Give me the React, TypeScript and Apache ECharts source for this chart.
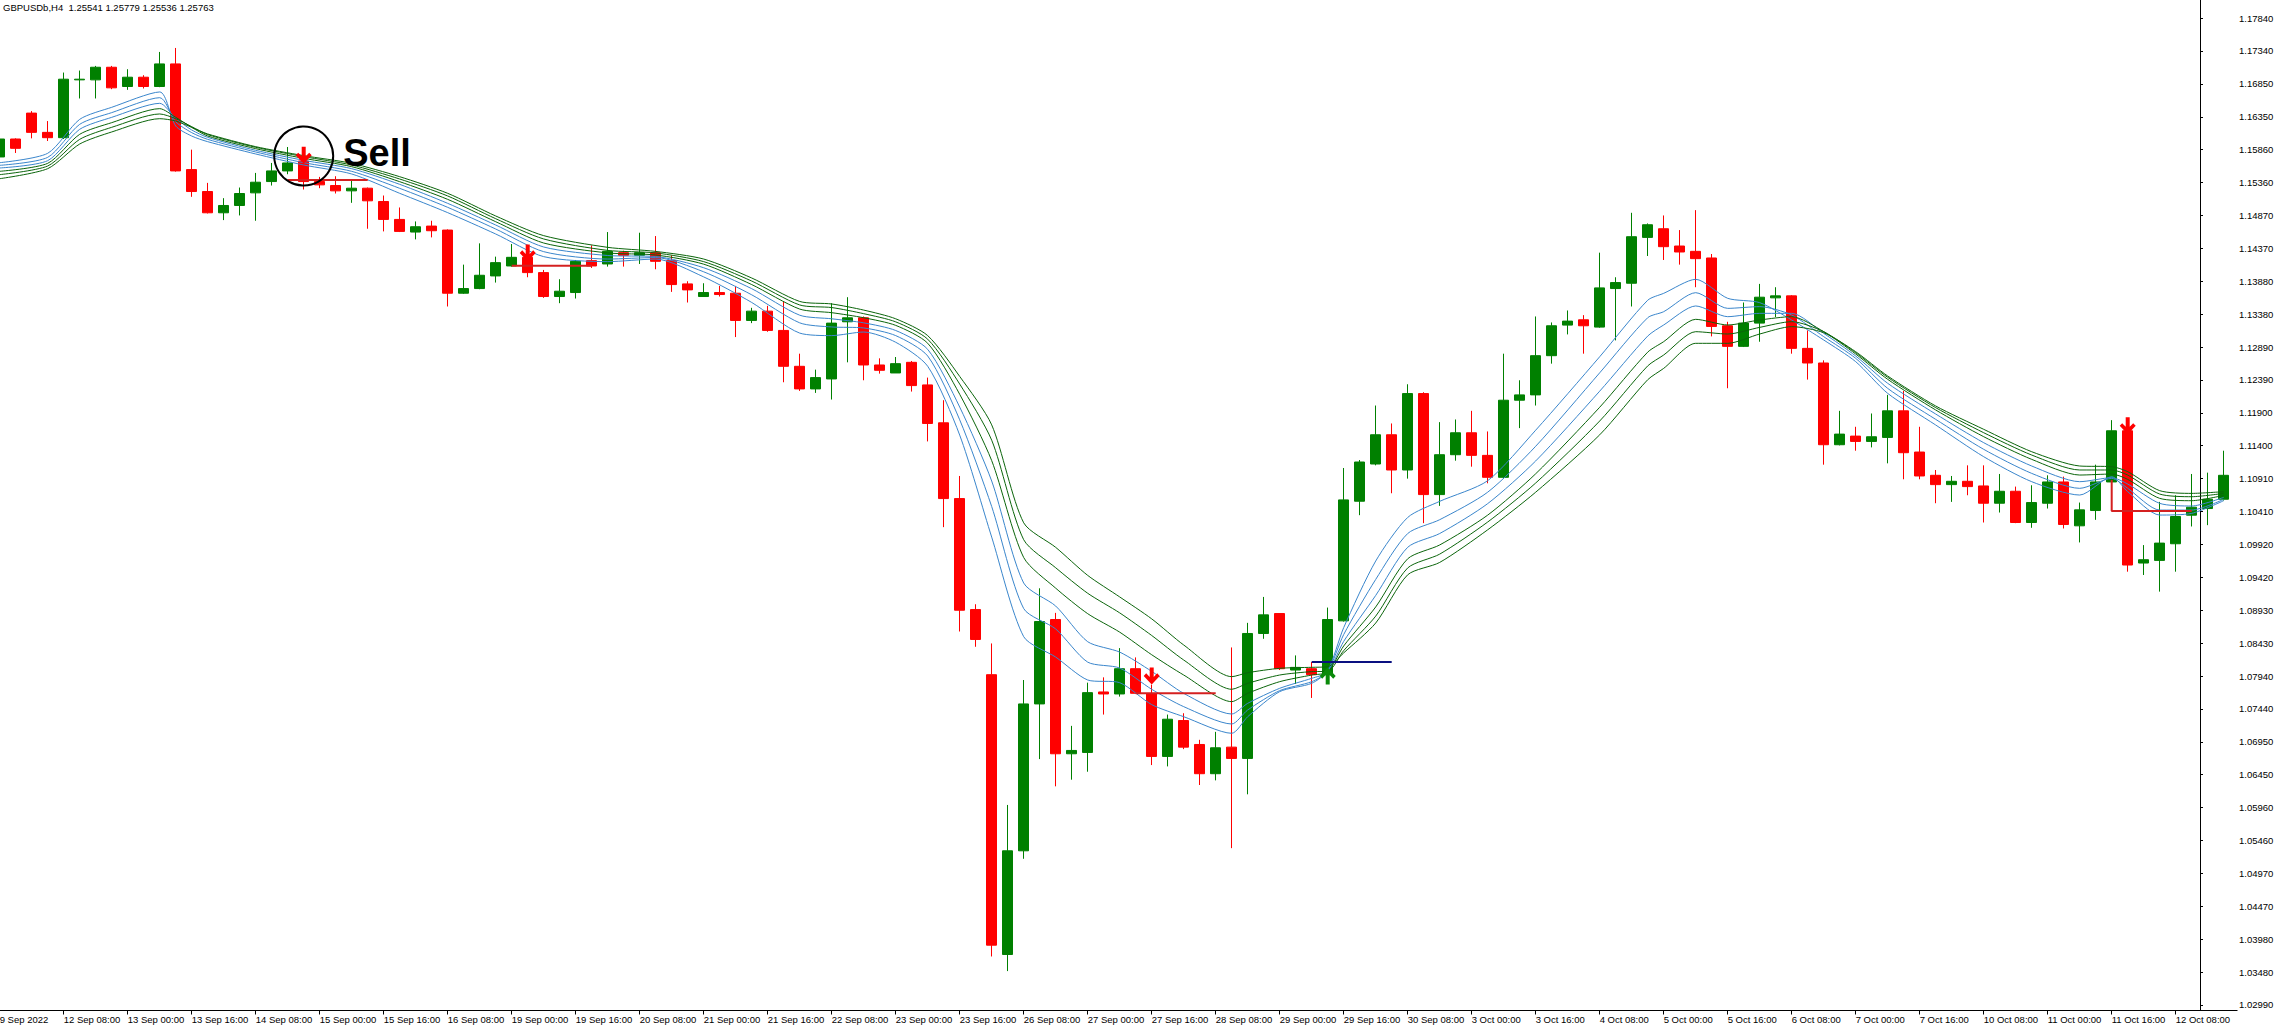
import React, { useEffect, useRef } from "react";
import * as echarts from "echarts";

const headerText = "GBPUSDb,H4  1.25541 1.25779 1.25536 1.25763";

const xTickLabels = [
  "9 Sep 2022", "12 Sep 08:00", "13 Sep 00:00", "13 Sep 16:00", "14 Sep 08:00", "15 Sep 00:00",
  "15 Sep 16:00", "16 Sep 08:00", "19 Sep 00:00", "19 Sep 16:00", "20 Sep 08:00", "21 Sep 00:00",
  "21 Sep 16:00", "22 Sep 08:00", "23 Sep 00:00", "23 Sep 16:00", "26 Sep 08:00", "27 Sep 00:00",
  "27 Sep 16:00", "28 Sep 08:00", "29 Sep 00:00", "29 Sep 16:00", "30 Sep 08:00", "3 Oct 00:00",
  "3 Oct 16:00", "4 Oct 08:00", "5 Oct 00:00", "5 Oct 16:00", "6 Oct 08:00", "7 Oct 00:00",
  "7 Oct 16:00", "10 Oct 08:00", "11 Oct 00:00", "11 Oct 16:00", "12 Oct 08:00",
];

const yTickValues = [
  1.0299, 1.03485, 1.0398, 1.04475, 1.0497, 1.05465, 1.0596, 1.06455, 1.0695, 1.07445, 1.0794,
  1.08435, 1.0893, 1.09425, 1.0992, 1.10415, 1.1091, 1.11405, 1.119, 1.12395, 1.1289, 1.13385,
  1.1388, 1.14375, 1.1487, 1.15365, 1.1586, 1.16355, 1.1685, 1.17345, 1.1784,
];
const yTickLabels = [
  "1.02990", "1.03480", "1.03980", "1.04470", "1.04970", "1.05460", "1.05960", "1.06450", "1.06950",
  "1.07440", "1.07940", "1.08430", "1.08930", "1.09420", "1.09920", "1.10410", "1.10910", "1.11400",
  "1.11900", "1.12390", "1.12890", "1.13380", "1.13880", "1.14370", "1.14870", "1.15360", "1.15860",
  "1.16350", "1.16850", "1.17340", "1.17840",
];
const yMin = 1.029072;
const yMax = 1.181117;

const opens = [
  1.1575, 1.1602, 1.1641, 1.1612, 1.1604, 1.1691, 1.1691, 1.1710, 1.1681, 1.1695,
  1.1681, 1.1715, 1.1556, 1.1523, 1.1491, 1.1502, 1.1521, 1.1538, 1.1554, 1.1569,
  1.1538, 1.1532, 1.1524, 1.1528, 1.1508, 1.1481, 1.1462, 1.1471, 1.1465, 1.1370,
  1.1377, 1.1396, 1.1411, 1.1424, 1.1401, 1.1365, 1.1371, 1.1419, 1.1414, 1.1431,
  1.1427, 1.1431, 1.1419, 1.1384, 1.1365, 1.1371, 1.1370, 1.1329, 1.1343, 1.1314,
  1.1260, 1.1226, 1.1241, 1.1327, 1.1333, 1.1262, 1.1250, 1.1266, 1.1232, 1.1175,
  1.1061, 1.0894, 1.0796, 1.0375, 1.0531, 1.0752, 1.0879, 1.0677, 1.0679, 1.0770,
  1.0767, 1.0805, 1.0767, 1.0673, 1.0727, 1.0691, 1.0647, 1.0687, 1.0670, 1.0858,
  1.0888, 1.0803, 1.0805, 1.0796, 1.0877, 1.1057, 1.1113, 1.1157, 1.1104, 1.1219,
  1.1067, 1.1127, 1.1160, 1.1126, 1.1093, 1.1209, 1.1217, 1.1276, 1.1322, 1.1330,
  1.1319, 1.1377, 1.1385, 1.1454, 1.1467, 1.1441, 1.1433, 1.1423, 1.1321, 1.1290,
  1.1325, 1.1363, 1.1366, 1.1287, 1.1265, 1.1142, 1.1155, 1.1147, 1.1153, 1.1193,
  1.1131, 1.1096, 1.1082, 1.1087, 1.1080, 1.1054, 1.1072, 1.1025, 1.1054, 1.1086,
  1.1020, 1.1043, 1.1086, 1.1163, 1.0964, 1.0968, 1.0993, 1.1036, 1.1046, 1.1060,
];
const highs = [
  1.1604, 1.1603, 1.1644, 1.1629, 1.1702, 1.1705, 1.1712, 1.1712, 1.1707, 1.1698,
  1.1733, 1.1739, 1.1586, 1.1536, 1.1513, 1.1529, 1.1551, 1.1566, 1.1590, 1.1571,
  1.1545, 1.1546, 1.1539, 1.1529, 1.1517, 1.1499, 1.1478, 1.1479, 1.1466, 1.1413,
  1.1445, 1.1425, 1.1444, 1.1435, 1.1405, 1.1391, 1.1420, 1.1442, 1.1462, 1.1434,
  1.1461, 1.1456, 1.1427, 1.1388, 1.1385, 1.1381, 1.1381, 1.1348, 1.1351, 1.1358,
  1.1279, 1.1255, 1.1355, 1.1364, 1.1335, 1.1272, 1.1274, 1.1268, 1.1243, 1.1209,
  1.1095, 1.0902, 1.0843, 1.0600, 1.0788, 1.0926, 1.0889, 1.0719, 1.0784, 1.0792,
  1.0836, 1.0822, 1.0781, 1.0736, 1.0738, 1.0698, 1.0710, 1.0837, 1.0874, 1.0913,
  1.0888, 1.0825, 1.0815, 1.0897, 1.1107, 1.1119, 1.1201, 1.1174, 1.1233, 1.1221,
  1.1176, 1.1180, 1.1193, 1.1162, 1.1279, 1.1239, 1.1335, 1.1326, 1.1344, 1.1337,
  1.1431, 1.1394, 1.1491, 1.1475, 1.1487, 1.1465, 1.1495, 1.1429, 1.1327, 1.1356,
  1.1384, 1.1379, 1.1367, 1.1314, 1.1269, 1.1193, 1.1169, 1.1189, 1.1217, 1.1223,
  1.1169, 1.1104, 1.1095, 1.1111, 1.1111, 1.1098, 1.1079, 1.1081, 1.1096, 1.1094,
  1.1055, 1.1112, 1.1179, 1.1179, 1.0991, 1.1056, 1.1066, 1.1098, 1.1100, 1.1133,
];
const lows = [
  1.1573, 1.1581, 1.1603, 1.1599, 1.1602, 1.1663, 1.1663, 1.1677, 1.1676, 1.1678,
  1.1680, 1.1553, 1.1515, 1.1490, 1.1480, 1.1487, 1.1479, 1.1532, 1.1549, 1.1526,
  1.1528, 1.1520, 1.1506, 1.1467, 1.1463, 1.1462, 1.1451, 1.1454, 1.1350, 1.1369,
  1.1376, 1.1386, 1.1410, 1.1394, 1.1363, 1.1355, 1.1362, 1.1408, 1.1410, 1.1410,
  1.1414, 1.1406, 1.1372, 1.1356, 1.1365, 1.1365, 1.1304, 1.1325, 1.1312, 1.1236,
  1.1223, 1.1220, 1.1210, 1.1266, 1.1239, 1.1249, 1.1250, 1.1222, 1.1147, 1.1018,
  1.0861, 1.0838, 1.0372, 1.0350, 1.0519, 1.0669, 1.0628, 1.0638, 1.0650, 1.0736,
  1.0763, 1.0767, 1.0660, 1.0658, 1.0684, 1.0630, 1.0637, 1.0535, 1.0616, 1.0850,
  1.0803, 1.0782, 1.0761, 1.0791, 1.0876, 1.1036, 1.1111, 1.1069, 1.1091, 1.1024,
  1.1050, 1.1118, 1.1109, 1.1084, 1.1091, 1.1167, 1.1201, 1.1264, 1.1308, 1.1279,
  1.1318, 1.1299, 1.1350, 1.1426, 1.1420, 1.1413, 1.1379, 1.1305, 1.1227, 1.1289,
  1.1297, 1.1334, 1.1279, 1.1240, 1.1112, 1.1141, 1.1133, 1.1138, 1.1114, 1.1090,
  1.1090, 1.1054, 1.1056, 1.1066, 1.1025, 1.1040, 1.1024, 1.1017, 1.1046, 1.1016,
  1.0995, 1.1029, 1.1085, 1.0951, 1.0946, 1.0921, 1.0951, 1.1019, 1.1021, 1.1058,
];
const closes = [
  1.1602, 1.1588, 1.1612, 1.1604, 1.1692, 1.1692, 1.1710, 1.1679, 1.1695, 1.1681,
  1.1715, 1.1554, 1.1523, 1.1491, 1.1502, 1.1520, 1.1537, 1.1554, 1.1566, 1.1538,
  1.1533, 1.1524, 1.1528, 1.1509, 1.1481, 1.1463, 1.1470, 1.1464, 1.1370, 1.1377,
  1.1397, 1.1416, 1.1424, 1.1401, 1.1365, 1.1373, 1.1418, 1.1411, 1.1433, 1.1427,
  1.1431, 1.1418, 1.1383, 1.1375, 1.1371, 1.1368, 1.1329, 1.1343, 1.1314, 1.1260,
  1.1226, 1.1243, 1.1325, 1.1333, 1.1262, 1.1254, 1.1264, 1.1231, 1.1174, 1.1061,
  1.0893, 1.0849, 1.0389, 1.0531, 1.0752, 1.0876, 1.0677, 1.0682, 1.0769, 1.0767,
  1.0805, 1.0768, 1.0673, 1.0729, 1.0687, 1.0647, 1.0686, 1.0670, 1.0858, 1.0886,
  1.0805, 1.0807, 1.0796, 1.0879, 1.1059, 1.1116, 1.1157, 1.1104, 1.1219, 1.1067,
  1.1127, 1.1160, 1.1126, 1.1093, 1.1209, 1.1217, 1.1276, 1.1321, 1.1328, 1.1321,
  1.1378, 1.1386, 1.1455, 1.1473, 1.1440, 1.1432, 1.1422, 1.1320, 1.1290, 1.1325,
  1.1364, 1.1366, 1.1287, 1.1265, 1.1142, 1.1158, 1.1147, 1.1154, 1.1193, 1.1130,
  1.1095, 1.1082, 1.1087, 1.1079, 1.1054, 1.1072, 1.1025, 1.1055, 1.1086, 1.1022,
  1.1044, 1.1086, 1.1163, 1.0961, 1.0969, 1.0994, 1.1034, 1.1048, 1.1060, 1.1096,
];

// moving-average ribbon, read at these bars
const maBars = [
  0, 3, 5, 7, 10, 11, 12, 13, 16, 19, 22, 25, 28, 31, 34, 38, 41, 44, 47, 50, 52, 54, 56, 58, 60,
  62, 64, 66, 68, 70, 72, 74, 77, 78, 80, 82, 83, 84, 86, 88, 90, 93, 96, 100, 103, 104, 106, 108,
  110, 112, 114, 116, 118, 121, 124, 127, 130, 132, 133, 135, 137, 139,
];
const maBlue1 = [
  1.15664, 1.15805, 1.16316, 1.16497, 1.16728, 1.16216, 1.16065, 1.1598, 1.15795, 1.15629, 1.15494,
  1.15203, 1.14912, 1.14591, 1.1425, 1.14175, 1.14214, 1.13945, 1.13561, 1.131, 1.13062, 1.13116,
  1.12962, 1.12601, 1.11565, 1.1003, 1.08532, 1.08225, 1.0788, 1.0784, 1.0751, 1.07328, 1.07078,
  1.07328, 1.07705, 1.0783, 1.0802, 1.08668, 1.0967, 1.10326, 1.10568, 1.10879, 1.11639, 1.12744,
  1.13594, 1.13698, 1.13909, 1.13623, 1.13558, 1.13297, 1.12996, 1.1267, 1.12193, 1.11717, 1.1124,
  1.10864, 1.10663, 1.10939, 1.10714, 1.10362, 1.10387, 1.10578,
];
const maBlue2 = [
  1.15624, 1.15744, 1.16241, 1.16417, 1.16642, 1.16281, 1.16116, 1.16015, 1.15825, 1.15664,
  1.15534, 1.15278, 1.14992, 1.14666, 1.14325, 1.14214, 1.14237, 1.14022, 1.13676, 1.13254,
  1.13192, 1.13177, 1.13062, 1.12755, 1.11795, 1.1049, 1.08955, 1.08648, 1.08149, 1.0806, 1.0774,
  1.07479, 1.07218, 1.07429, 1.0772, 1.07855, 1.0801, 1.08564, 1.09393, 1.10084, 1.10292, 1.10706,
  1.11397, 1.12502, 1.13331, 1.13422, 1.13708, 1.13472, 1.13498, 1.13372, 1.13046, 1.1272,
  1.12268, 1.11802, 1.11351, 1.10989, 1.10764, 1.10914, 1.10764, 1.10437, 1.10437, 1.10598,
];
const maBlue3 = [
  1.15584, 1.15694, 1.16166, 1.16346, 1.16557, 1.16331, 1.16156, 1.16045, 1.1585, 1.15699,
  1.15574, 1.15338, 1.15052, 1.14726, 1.14395, 1.14267, 1.14252, 1.14083, 1.13768, 1.13369,
  1.13315, 1.13254, 1.13139, 1.12855, 1.11987, 1.10874, 1.09339, 1.08993, 1.08456, 1.083, 1.0801,
  1.07679, 1.07368, 1.07529, 1.07755, 1.07905, 1.08, 1.08461, 1.09152, 1.09877, 1.10084, 1.10534,
  1.11176, 1.12226, 1.13055, 1.13222, 1.13508, 1.13347, 1.13397, 1.13397, 1.13096, 1.12755,
  1.12344, 1.11882, 1.11451, 1.111, 1.10864, 1.10924, 1.10829, 1.10538, 1.10498, 1.10628,
];
const maGreen1 = [
  1.15534, 1.15654, 1.16091, 1.16266, 1.16477, 1.16346, 1.16196, 1.16065, 1.15875, 1.15729,
  1.15604, 1.15378, 1.15112, 1.14776, 1.14455, 1.14306, 1.14275, 1.14137, 1.1383, 1.13461,
  1.13407, 1.13331, 1.13216, 1.12947, 1.12179, 1.11181, 1.09723, 1.09262, 1.08878, 1.086, 1.0826,
  1.07955, 1.07554, 1.0768, 1.07855, 1.07955, 1.08, 1.08392, 1.08979, 1.09704, 1.09912, 1.10361,
  1.10983, 1.11984, 1.12813, 1.12971, 1.13307, 1.13222, 1.13297, 1.13347, 1.13121, 1.12785,
  1.12404, 1.11943, 1.11541, 1.112, 1.10964, 1.10979, 1.10899, 1.10613, 1.10578, 1.10658,
];
const maGreen2 = [
  1.15484, 1.15614, 1.16015, 1.16196, 1.16397, 1.16326, 1.16206, 1.16086, 1.15895, 1.15755,
  1.15629, 1.15418, 1.15163, 1.14821, 1.14516, 1.14344, 1.14306, 1.14175, 1.13883, 1.13523,
  1.13484, 1.13392, 1.13269, 1.13008, 1.12333, 1.11488, 1.09991, 1.09569, 1.09185, 1.0889, 1.0855,
  1.08181, 1.0774, 1.0783, 1.07955, 1.08006, 1.0801, 1.08323, 1.08841, 1.09566, 1.09774, 1.10257,
  1.10844, 1.11777, 1.12606, 1.1277, 1.13121, 1.13086, 1.13186, 1.13272, 1.13121, 1.12805,
  1.12434, 1.11978, 1.11601, 1.11265, 1.1104, 1.1104, 1.10964, 1.10678, 1.10638, 1.10688,
];
const maGreen3 = [
  1.15423, 1.15574, 1.15945, 1.16126, 1.16326, 1.16291, 1.16196, 1.16096, 1.15905, 1.1577,
  1.15654, 1.15453, 1.15203, 1.14862, 1.14566, 1.1439, 1.14329, 1.14214, 1.13929, 1.13576,
  1.13538, 1.13446, 1.13315, 1.13062, 1.12448, 1.11719, 1.10245, 1.09876, 1.09454, 1.0913, 1.088,
  1.08407, 1.0793, 1.0799, 1.08056, 1.08071, 1.0808, 1.08288, 1.08737, 1.09463, 1.09649, 1.1014,
  1.10706, 1.11569, 1.12398, 1.12569, 1.12946, 1.12946, 1.13086, 1.13197, 1.13106, 1.1282,
  1.12454, 1.12003, 1.11652, 1.11315, 1.111, 1.1109, 1.11015, 1.10729, 1.10688, 1.10714,
];

// signal levels
const sellLevelStart = [18, 32, 71, 132];
const sellLevelEnd = [23, 37, 76, 137];
const sellLevelPrice = [1.15403, 1.14114, 1.0768, 1.10423];
const sellLevelHookFrom = [null, null, null, 1.1089];
const buyLevelStart = [82];
const buyLevelEnd = [87];
const buyLevelPrice = [1.08151];

const sellArrowBars = [19, 33, 72, 133];
const sellArrowPrices = [1.15775, 1.14305, 1.0794, 1.11705];
const buyArrowBars = [83];
const buyArrowPrices = [1.0794];

const circleBar = 19;
const circlePrice = 1.15765;
const circleText = "Sell";

const FONT = "'Liberation Sans', Arial, sans-serif";
const DOWN_ARROW = "path://M6,0 L10,0 L10,9 L13.5,5.5 L16,8 L8,16 L0,8 L2.5,5.5 L6,9 Z";
const UP_ARROW = "path://M6,16 L10,16 L10,7 L13.5,10.5 L16,8 L8,0 L0,8 L2.5,10.5 L6,7 Z";

export default function App() {
  const ref = useRef<HTMLDivElement>(null);

  useEffect(() => {
    document.body.style.margin = "0";
    const el = ref.current;
    if (!el) return;
    const chart = echarts.init(el, null, { renderer: "svg" });

    const categories = opens.map((_, i) => String(i));
    const candleData = opens.map((o, i) => [o, closes[i], lows[i], highs[i]]);

    const maDefs = [
      { name: "MA1", vals: maBlue1, color: "#3a86cc" },
      { name: "MA2", vals: maBlue2, color: "#3a86cc" },
      { name: "MA3", vals: maBlue3, color: "#3a86cc" },
      { name: "MA4", vals: maGreen1, color: "#0b650b" },
      { name: "MA5", vals: maGreen2, color: "#0b650b" },
      { name: "MA6", vals: maGreen3, color: "#0b650b" },
    ];

    const maSeries = maDefs.map((d) => ({
      type: "line",
      name: d.name,
      xAxisIndex: 0,
      yAxisIndex: 0,
      data: maBars.map((b, k) => [b, d.vals[k]]),
      symbol: "none",
      showSymbol: false,
      smooth: 0.25,
      lineStyle: { color: d.color, width: 1 },
      z: 3,
      silent: true,
    }));

    const sellLevelSeries = sellLevelStart.map((s, k) => {
      const pts: any[] = [];
      if (sellLevelHookFrom[k] != null) pts.push([s, sellLevelHookFrom[k]]);
      pts.push([s, sellLevelPrice[k]]);
      pts.push([sellLevelEnd[k], sellLevelPrice[k]]);
      return {
        type: "line",
        data: pts,
        symbol: "none",
        lineStyle: { color: "#d42020", width: 2 },
        z: 4,
        silent: true,
      };
    });
    const buyLevelSeries = buyLevelStart.map((s, k) => ({
      type: "line",
      data: [
        [s, buyLevelPrice[k]],
        [buyLevelEnd[k], buyLevelPrice[k]],
      ],
      symbol: "none",
      lineStyle: { color: "#0a1080", width: 2 },
      z: 4,
      silent: true,
    }));

    const option: any = {
      animation: false,
      backgroundColor: "#ffffff",
      textStyle: { fontFamily: FONT },
      grid: [
        {
          left: -8.3,
          top: 0,
          width: 2240,
          height: 1010.5,
          containLabel: false,
          outerBoundsMode: "none",
        },
        {
          left: 2200,
          top: 0,
          width: 37,
          height: 1010.5,
          containLabel: false,
          outerBoundsMode: "none",
        },
      ],
      xAxis: [
        {
          type: "category",
          gridIndex: 0,
          data: categories,
          boundaryGap: true,
          axisLine: { show: true, lineStyle: { color: "#000", width: 1 } },
          axisTick: {
            show: true,
            alignWithLabel: true,
            interval: 3,
            length: 4,
            lineStyle: { color: "#000", width: 1 },
          },
          axisLabel: {
            interval: 3,
            formatter: (_v: string, idx: number) =>
              idx % 4 === 0 ? xTickLabels[idx / 4] ?? "" : "",
            align: "left",
            color: "#000",
            fontSize: 9.5,
            fontFamily: FONT,
            margin: 4,
          },
          splitLine: { show: false },
        },
        {
          type: "value",
          gridIndex: 1,
          show: false,
          min: 0,
          max: 1,
        },
      ],
      yAxis: [
        {
          type: "value",
          gridIndex: 0,
          show: false,
          min: yMin,
          max: yMax,
          splitLine: { show: false },
        },
        {
          type: "value",
          gridIndex: 1,
          position: "right",
          min: yMin,
          max: yMax,
          axisLine: { show: true, lineStyle: { color: "#000", width: 1 } },
          axisTick: {
            show: true,
            length: 3,
            customValues: yTickValues,
            lineStyle: { color: "#000", width: 1 },
          },
          axisLabel: {
            customValues: yTickValues,
            formatter: (v: number) => {
              let best = 0;
              for (let k = 0; k < yTickValues.length; k++) {
                if (Math.abs(yTickValues[k] - v) < Math.abs(yTickValues[best] - v)) best = k;
              }
              return yTickLabels[best];
            },
            color: "#000",
            fontSize: 9.5,
            fontFamily: FONT,
            margin: 2,
          },
          splitLine: { show: false },
        },
      ],
      graphic: [
        {
          type: "text",
          left: 3,
          top: 2,
          style: { text: headerText, fill: "#000", font: `9.5px ${FONT}` },
        },
        {
          type: "line",
          shape: { x1: 2228, y1: 1010.5, x2: 2237.5, y2: 1010.5 },
          style: { stroke: "#000", lineWidth: 1 },
        },
      ],
      series: [
        {
          type: "candlestick",
          data: candleData,
          barWidth: 11,
          itemStyle: {
            color: "#008000",
            color0: "#ff0000",
            borderColor: "#008000",
            borderColor0: "#ff0000",
            borderWidth: 1,
          },
          z: 2,
          silent: true,
        },
        ...maSeries,
        ...sellLevelSeries,
        ...buyLevelSeries,
        {
          type: "scatter",
          data: sellArrowBars.map((b, k) => [b, sellArrowPrices[k]]),
          symbol: DOWN_ARROW,
          symbolSize: [16, 17],
          itemStyle: { color: "#ff0000", opacity: 1 },
          z: 6,
          silent: true,
        },
        {
          type: "scatter",
          data: buyArrowBars.map((b, k) => [b, buyArrowPrices[k]]),
          symbol: UP_ARROW,
          symbolSize: [16, 17],
          itemStyle: { color: "#0a8a0a", opacity: 1 },
          z: 6,
          silent: true,
        },
        {
          type: "scatter",
          data: [[circleBar, circlePrice]],
          symbol: "circle",
          symbolSize: 59,
          itemStyle: {
            color: "rgba(0,0,0,0)",
            borderColor: "#000",
            borderWidth: 2,
            opacity: 1,
          },
          label: {
            show: true,
            position: "right",
            distance: 9,
            formatter: circleText,
            color: "#000",
            opacity: 1,
            fontSize: 38,
            fontWeight: "bold",
            fontFamily: FONT,
            offset: [0, -3],
          },
          z: 7,
          silent: true,
        },
      ],
    };

    chart.setOption(option);
    return () => chart.dispose();
  }, []);

  return <div ref={ref} style={{ width: 2274, height: 1026, background: "#fff" }} />;
}
